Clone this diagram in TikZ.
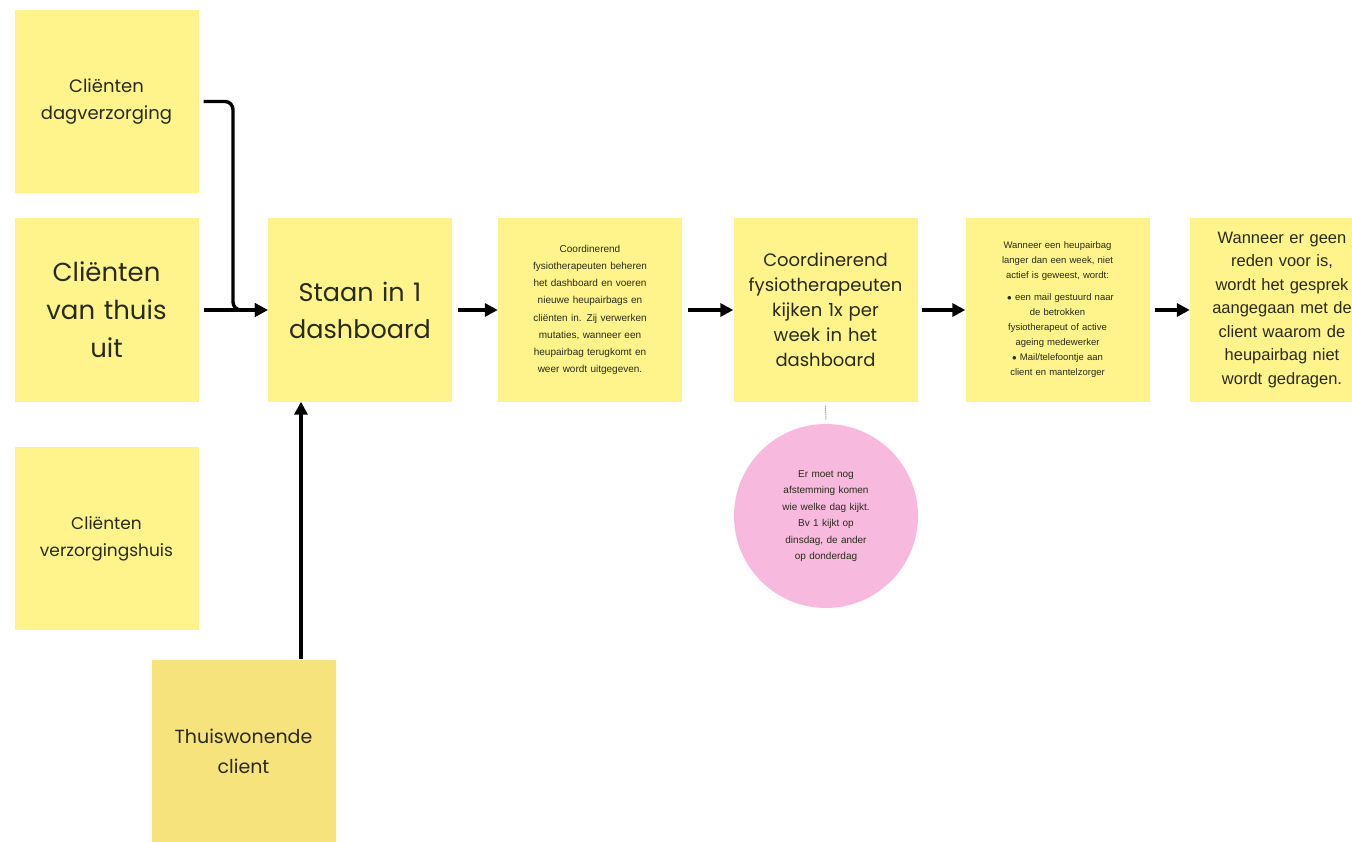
\documentclass[tikz,border=0pt]{standalone}
\usepackage{fontspec}
\setmainfont{Poppins}
\newfontfamily\arialf{Liberation Sans}
\usetikzlibrary{arrows.meta,calc}
\definecolor{sticky}{HTML}{FFF48C}
\definecolor{stickyd}{HTML}{F7E37C}
\definecolor{pinkc}{HTML}{F7B9DE}
\definecolor{txt}{HTML}{2A2A1A}
\tikzset{
  note/.style={fill=sticky, draw=none, minimum width=184pt, minimum height=183pt, text width=170pt, align=center, inner sep=0pt, text=txt},
  arr/.style={-{Triangle[length=13pt,width=13pt]}, line width=3.4pt, black},
}
\begin{document}
\begin{tikzpicture}[x=1pt,y=-1pt]
\useasboundingbox (0,0) rectangle (1352,842);
\clip (0,0) rectangle (1352,842);
\fill[white] (0,0) rectangle (1352,842);
\node[note, font=\fontsize{18}{27}\selectfont] (a) at (106.5,101.5) {Cliënten\\dagverzorging};
\node[note, font=\fontsize{26}{38}\selectfont] (b) at (106.5,310) {Cliënten\\van thuis\\uit};
\node[note, font=\fontsize{17}{27}\selectfont] (c) at (106.5,538.5) {Cliënten\\verzorgingshuis};
\node[note, fill=stickyd, font=\fontsize{19}{30}\selectfont] (d) at (243.5,751) {Thuiswonende\\client};
\node[note, font=\fontsize{25.5}{37}\selectfont] (e) at (360,310) {Staan in 1\\dashboard};
\node[note, font=\arialf\fontsize{10}{17.2}\selectfont, text width=150pt] (f) at (590,310) {Coordinerend\\fysiotherapeuten beheren\\het dashboard en voeren\\nieuwe heupairbags en\\cliënten in. Zij verwerken\\mutaties, wanneer een\\heupairbag terugkomt en\\weer wordt uitgegeven.};
\node[note, font=\fontsize{18}{25}\selectfont] (g) at (825.5,310) {Coordinerend\\fysiotherapeuten\\kijken 1x per\\week in het\\dashboard};
\node[note, font=\arialf\fontsize{9.5}{15}\selectfont, text width=150pt] (h) at (1057.5,310) {Wanneer een heupairbag\\langer dan een week, niet\\actief is geweest, wordt:\\[7pt]
\hspace*{6pt}$\bullet$\ een mail gestuurd naar\\de betrokken\\fysiotherapeut of active\\ageing medewerker\\
$\bullet$\ Mail/telefoontje aan\\client en mantelzorger};
\node[note, font=\arialf\fontsize{16.5}{23.5}\selectfont, text width=180pt] (i) at (1282,310) {Wanneer er geen\\reden voor is,\\wordt het gesprek\\aangegaan met de\\client waarom de\\heupairbag niet\\wordt gedragen.};
\node[circle, fill=pinkc, minimum size=184pt, inner sep=0pt, text width=140pt, align=center, text=txt, font=\arialf\fontsize{10}{16.5}\selectfont] (p) at (826,516) {Er moet nog\\afstemming komen\\wie welke dag kijkt.\\Bv 1 kijkt op\\dinsdag, de ander\\op donderdag};
\coordinate (j) at (233,310);
\draw[arr, rounded corners=8pt, shorten <=5pt] (a.east) -| (j) -- (e.west);
\draw[arr, shorten <=5pt] (b.east) -- (e.west);
\draw[arr] ([xshift=57.5pt]d.north) -- ([xshift=-59pt]e.south);
\draw[arr, shorten <=6pt] (e.east) -- (f.west);
\draw[arr, shorten <=6pt] (f.east) -- (g.west);
\draw[arr, shorten <=4pt] (g.east) -- (h.west);
\draw[arr, shorten <=5pt] (h.east) -- (i.west);
\draw[densely dotted, gray, line width=1pt, shorten <=4pt, shorten >=4pt] (g.south) -- (p.north);
\end{tikzpicture}
\end{document}
